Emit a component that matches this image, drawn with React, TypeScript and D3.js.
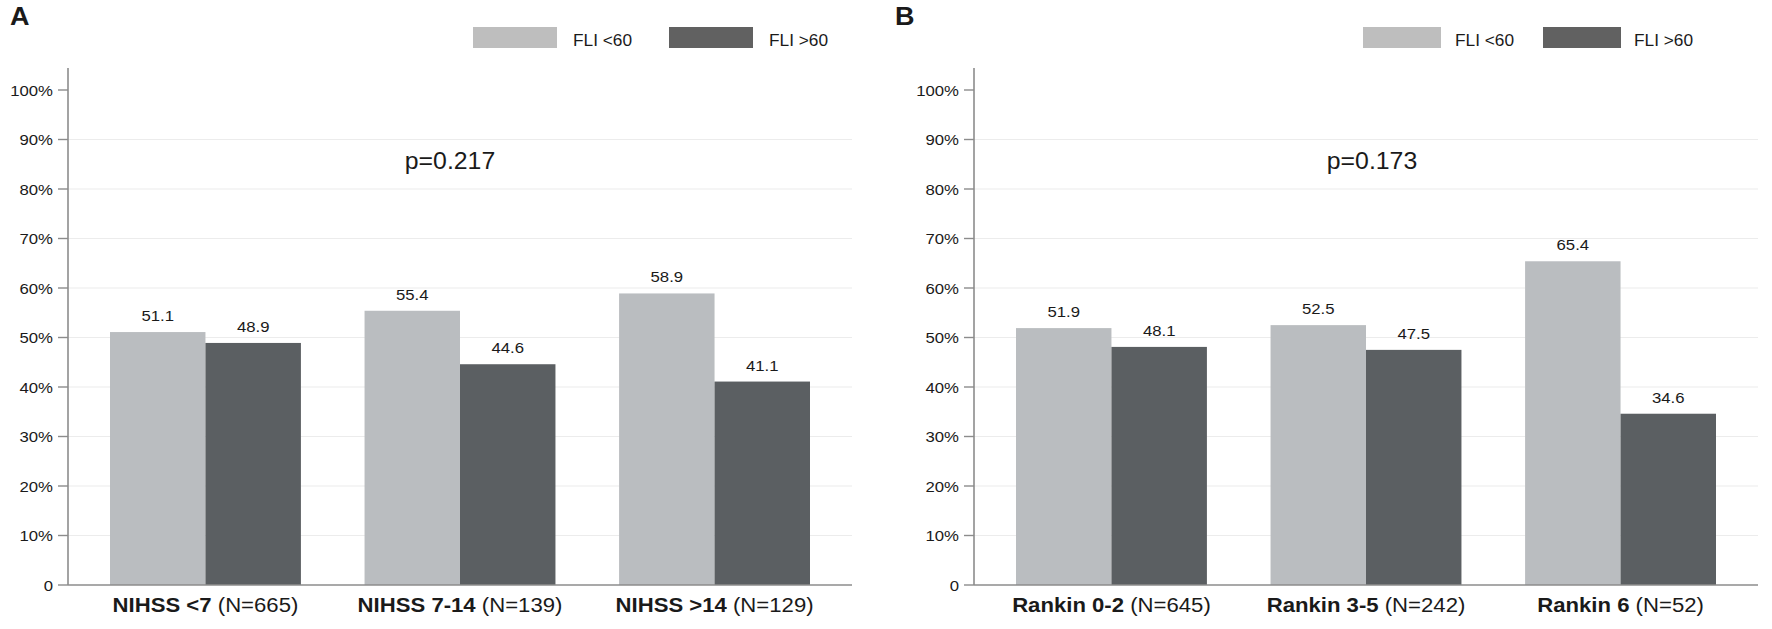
import * as d3 from 'd3';
import type { ReactNode } from 'react';

const WIDTH = 1772;
const HEIGHT = 629;
const FONT = '"Liberation Sans", Arial, Helvetica, sans-serif';
const SX = 1.08; // the source picture is slightly stretched horizontally

const seriesNames = ['FLI <60', 'FLI >60'];
const yTicks = [0, 10, 20, 30, 40, 50, 60, 70, 80, 90, 100];

const nihssGroups = ['NIHSS <7', 'NIHSS 7-14', 'NIHSS >14'];
const nihssN = ['(N=665)', '(N=139)', '(N=129)'];
const nihssLow = [51.1, 55.4, 58.9];
const nihssHigh = [48.9, 44.6, 41.1];

const rankinGroups = ['Rankin 0-2', 'Rankin 3-5', 'Rankin 6'];
const rankinN = ['(N=645)', '(N=242)', '(N=52)'];
const rankinLow = [51.9, 52.5, 65.4];
const rankinHigh = [48.1, 47.5, 34.6];

const barColors = ['#babdc0', '#5b5f62'];
const legendColors = ['#bebebe', '#616161'];

interface TxtProps {
  x: number;
  y: number;
  size: number;
  weight?: string | number;
  anchor?: 'start' | 'middle' | 'end';
  children: ReactNode;
}

function Txt({ x, y, size, weight = 'normal', anchor = 'start', children }: TxtProps) {
  return (
    <text
      transform={`translate(${x},${y}) scale(${SX},1)`}
      fontSize={size}
      fontWeight={weight}
      textAnchor={anchor}
      fill="#1a1a1a"
      fontFamily={FONT}
    >
      {children}
    </text>
  );
}

interface PanelProps {
  left: number;
  letter: string;
  letterX: number;
  groups: string[];
  counts: string[];
  low: number[];
  high: number[];
  pValue: string;
  pX: number;
  legendX: number[];
  swatchW: number;
}

function Panel({ left, letter, letterX, groups, counts, low, high, pValue, pX, legendX, swatchW }: PanelProps) {
  const right = left + 784;
  const y = d3.scaleLinear().domain([0, 100]).range([585, 90]);
  const x0 = d3.scaleBand<string>().domain(groups).range([left, right]).paddingInner(0.25).paddingOuter(0.165);
  const x1 = d3.scaleBand<string>().domain(seriesNames).range([0, x0.bandwidth()]);
  const values = [low, high];

  return (
    <g>
      <Txt x={letterX} y={25} size={25} weight="bold">{letter}</Txt>

      {seriesNames.map((name, i) => (
        <g key={name}>
          <rect x={legendX[i * 2]} y={27} width={swatchW} height={21} fill={legendColors[i]} />
          <Txt x={legendX[i * 2 + 1]} y={46} size={16}>{name}</Txt>
        </g>
      ))}

      {yTicks.filter(t => t > 0 && t < 100).map(t => (
        <line key={t} x1={left} x2={right} y1={y(t)} y2={y(t)} stroke="#ececec" strokeWidth={1.2} />
      ))}

      {groups.map((g, gi) => (
        <g key={g}>
          {seriesNames.map((s, si) => {
            const v = values[si][gi];
            const bx = (x0(g) ?? 0) + (x1(s) ?? 0);
            return (
              <g key={s}>
                <rect x={bx} y={y(v)} width={x1.bandwidth()} height={y(0) - y(v)} fill={barColors[si]} />
                <Txt x={bx + x1.bandwidth() / 2} y={y(v) - 11} size={15.5} anchor="middle">
                  {v.toFixed(1)}
                </Txt>
              </g>
            );
          })}
          <Txt x={(x0(g) ?? 0) + x0.bandwidth() / 2} y={612} size={20.5} anchor="middle">
            <tspan fontWeight="bold">{g}</tspan>
            <tspan> {counts[gi]}</tspan>
          </Txt>
        </g>
      ))}

      <line x1={left} x2={left} y1={68} y2={585} stroke="#8c8c8c" strokeWidth={1.6} />
      <line x1={left} x2={right} y1={585} y2={585} stroke="#8c8c8c" strokeWidth={1.6} />
      {yTicks.map(t => (
        <g key={t}>
          <line x1={left - 10} x2={left} y1={y(t)} y2={y(t)} stroke="#8c8c8c" strokeWidth={1.4} />
          <Txt x={left - 15} y={y(t) + 5.5} size={15.5} anchor="end">
            {t === 0 ? '0' : `${t}%`}
          </Txt>
        </g>
      ))}

      <Txt x={pX} y={169} size={23} anchor="middle">{pValue}</Txt>
    </g>
  );
}

export default function App() {
  return (
    <div style={{ position: 'absolute', left: 0, top: 0, background: '#fff' }}>
      <svg width={WIDTH} height={HEIGHT} viewBox={`0 0 ${WIDTH} ${HEIGHT}`} style={{ display: 'block' }}>
        <rect width={WIDTH} height={HEIGHT} fill="#fff" />
        <Panel
          left={68}
          letter="A"
          letterX={10}
          groups={nihssGroups}
          counts={nihssN}
          low={nihssLow}
          high={nihssHigh}
          pValue="p=0.217"
          pX={450}
          legendX={[473, 573, 669, 769]}
          swatchW={84}
        />
        <Panel
          left={974}
          letter="B"
          letterX={895}
          groups={rankinGroups}
          counts={rankinN}
          low={rankinLow}
          high={rankinHigh}
          pValue="p=0.173"
          pX={1372}
          legendX={[1363, 1455, 1543, 1634]}
          swatchW={78}
        />
      </svg>
    </div>
  );
}
